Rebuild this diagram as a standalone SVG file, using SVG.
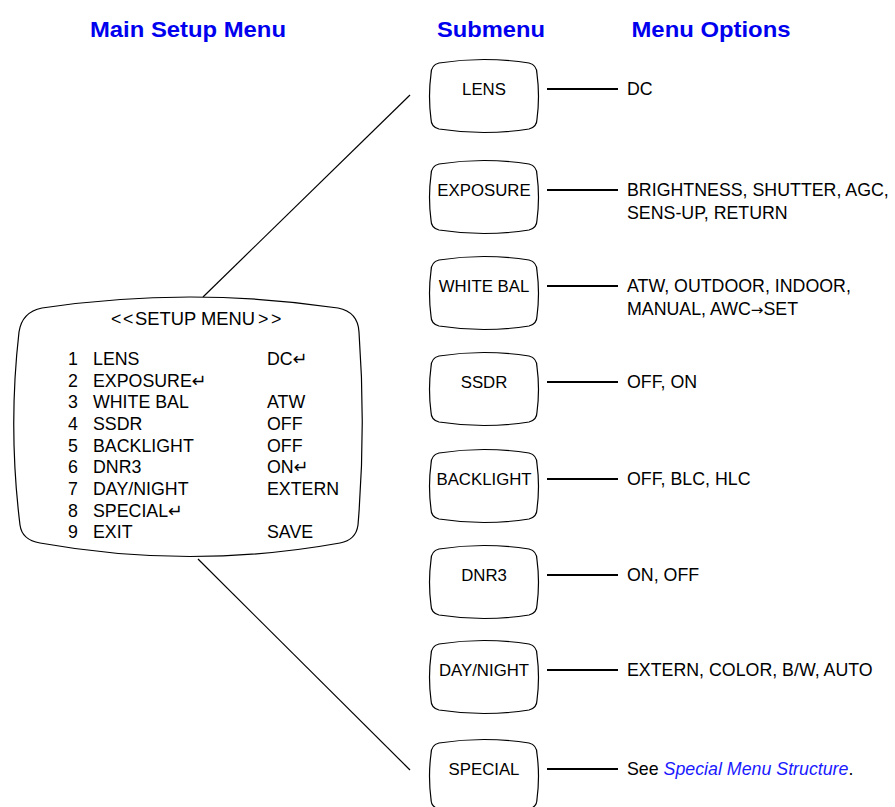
<svg xmlns="http://www.w3.org/2000/svg" width="895" height="807" viewBox="0 0 895 807">
<defs>
<style>
.hdr{font-family:"Liberation Sans",Arial,sans-serif;font-weight:bold;font-size:22px;fill:#0000ee;text-anchor:middle}
.t{font-family:"Liberation Sans",Arial,"DejaVu Sans",sans-serif;font-size:17.8px;fill:#000}
.sub{font-family:"Liberation Sans",Arial,sans-serif;font-size:16.8px;fill:#000;text-anchor:middle}
.lnk{fill:#1a1aff;font-style:italic}
.arr{font-family:"DejaVu Sans",sans-serif;font-size:15px}
.box{fill:#fff;stroke:#000;stroke-width:1.2}
.c{stroke:#000;fill:none}
</style>
<path id="sb" d="M 9,4 Q 54,-3 99,4 Q 107,6 107,15 Q 110,37 107,60 Q 107,68 99,70 Q 54,77 9,70 Q 1,68 1,60 Q -2,37 1,15 Q 1,6 9,4 Z"/>
</defs>
<rect width="895" height="807" fill="#fff"/>
<g id="headers">
<text class="hdr" x="188" y="37" textLength="196" lengthAdjust="spacingAndGlyphs">Main Setup Menu</text>
<text class="hdr" x="491" y="37" textLength="108" lengthAdjust="spacingAndGlyphs">Submenu</text>
<text class="hdr" x="711" y="37" textLength="159" lengthAdjust="spacingAndGlyphs">Menu Options</text>
</g>
<g id="connectors">
<line class="c" x1="203" y1="297" x2="410" y2="95" stroke-width="1.2"/>
<line class="c" x1="198" y1="559" x2="410" y2="770" stroke-width="1.2"/>
<line class="c" x1="547" y1="89" x2="618" y2="89" stroke-width="2"/>
<line class="c" x1="547" y1="190" x2="618" y2="190" stroke-width="2"/>
<line class="c" x1="547" y1="286" x2="618" y2="286" stroke-width="2"/>
<line class="c" x1="547" y1="382" x2="618" y2="382" stroke-width="2"/>
<line class="c" x1="547" y1="479" x2="618" y2="479" stroke-width="2"/>
<line class="c" x1="547" y1="575" x2="618" y2="575" stroke-width="2"/>
<line class="c" x1="547" y1="670" x2="618" y2="670" stroke-width="2"/>
<line class="c" x1="547" y1="769" x2="618" y2="769" stroke-width="2"/>
</g>
<g id="setup-menu">
<path class="box" d="M 42,308 Q 190,286 338,308 Q 358,312 359,332 Q 366,428 358,525 Q 356,540 340,543 Q 190,570 40,543 Q 22,540 20,525 Q 8,428 19,332 Q 22,312 42,308 Z"/>
<text class="t" y="325"><tspan x="111">&lt;</tspan><tspan x="123">&lt;</tspan><tspan x="135" textLength="120" lengthAdjust="spacingAndGlyphs">SETUP MENU</tspan><tspan x="258">&gt;</tspan><tspan x="271">&gt;</tspan></text>
<g class="t">
<text x="68" y="365">1</text><text x="93" y="365">LENS</text><text x="267" y="365">DC↵</text>
<text x="68" y="386.7">2</text><text x="93" y="386.7">EXPOSURE↵</text>
<text x="68" y="408.3">3</text><text x="93" y="408.3">WHITE BAL</text><text x="267" y="408.3">ATW</text>
<text x="68" y="430">4</text><text x="93" y="430">SSDR</text><text x="267" y="430">OFF</text>
<text x="68" y="451.7">5</text><text x="93" y="451.7">BACKLIGHT</text><text x="267" y="451.7">OFF</text>
<text x="68" y="473.3">6</text><text x="93" y="473.3">DNR3</text><text x="267" y="473.3">ON↵</text>
<text x="68" y="495">7</text><text x="93" y="495">DAY/NIGHT</text><text x="267" y="495">EXTERN</text>
<text x="68" y="516.7">8</text><text x="93" y="516.7">SPECIAL↵</text>
<text x="68" y="538.3">9</text><text x="93" y="538.3">EXIT</text><text x="267" y="538.3">SAVE</text>
</g>
</g>
<g id="sub-lens"><use href="#sb" class="box" x="430" y="59"/><text class="sub" x="484" y="95">LENS</text></g>
<g id="sub-exposure"><use href="#sb" class="box" x="430" y="160"/><text class="sub" x="484" y="196">EXPOSURE</text></g>
<g id="sub-whitebal"><use href="#sb" class="box" x="430" y="256"/><text class="sub" x="484" y="292">WHITE BAL</text></g>
<g id="sub-ssdr"><use href="#sb" class="box" x="430" y="352"/><text class="sub" x="484" y="388">SSDR</text></g>
<g id="sub-backlight"><use href="#sb" class="box" x="430" y="449"/><text class="sub" x="484" y="485">BACKLIGHT</text></g>
<g id="sub-dnr3"><use href="#sb" class="box" x="430" y="545"/><text class="sub" x="484" y="581">DNR3</text></g>
<g id="sub-daynight"><use href="#sb" class="box" x="430" y="640"/><text class="sub" x="484" y="676">DAY/NIGHT</text></g>
<g id="sub-special"><use href="#sb" class="box" x="430" y="739"/><text class="sub" x="484" y="775">SPECIAL</text></g>
<g id="options" class="t">
<text x="627" y="95">DC</text>
<text x="627" y="196">BRIGHTNESS, SHUTTER, AGC,</text>
<text x="627" y="219">SENS-UP, RETURN</text>
<text x="627" y="292">ATW, OUTDOOR, INDOOR,</text>
<text x="627" y="315">MANUAL, AWC<tspan class="arr">→</tspan>SET</text>
<text x="627" y="388">OFF, ON</text>
<text x="627" y="485">OFF, BLC, HLC</text>
<text x="627" y="581">ON, OFF</text>
<text x="627" y="676">EXTERN, COLOR, B/W, AUTO</text>
<text x="627" y="775">See <tspan class="lnk">Special Menu Structure</tspan>.</text>
</g>
</svg>
